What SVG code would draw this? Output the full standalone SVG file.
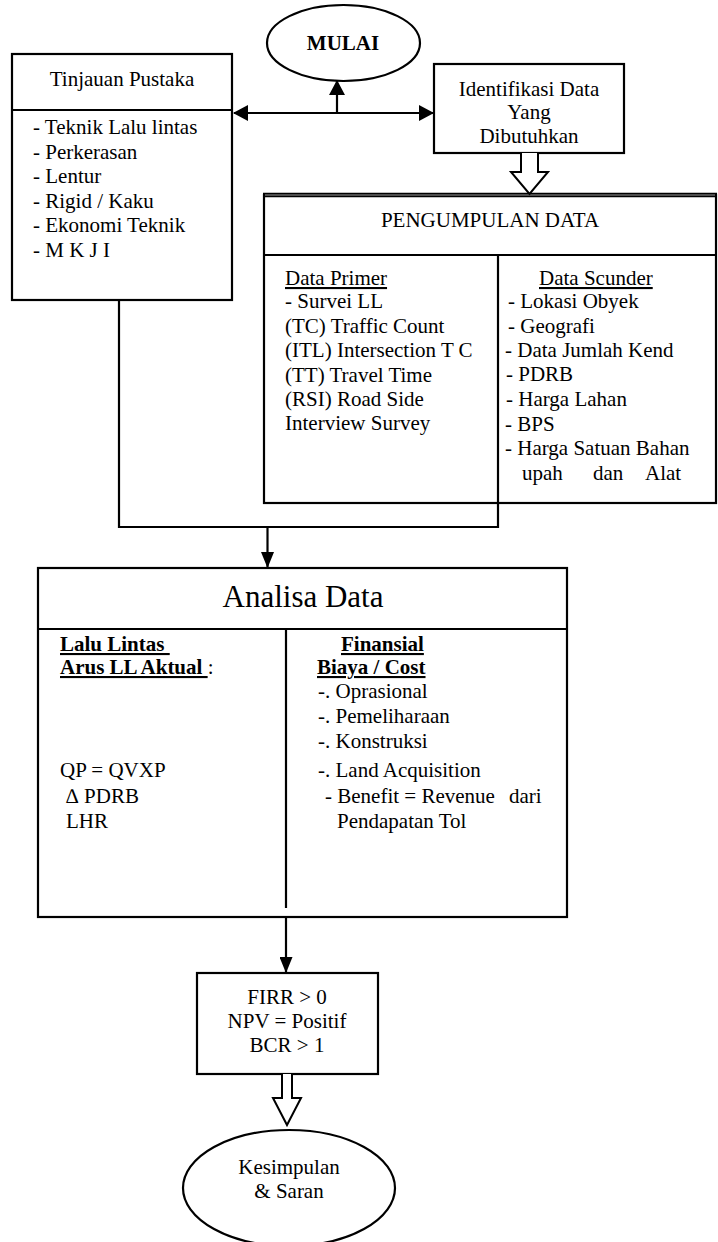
<svg xmlns="http://www.w3.org/2000/svg" width="718" height="1242" viewBox="0 0 718 1242">
<defs>
<marker id="ah" viewBox="0 0 15 16" refX="14" refY="8" markerWidth="15" markerHeight="16" markerUnits="userSpaceOnUse" orient="auto-start-reverse"><path d="M0,0 L15,8 L0,16 z" fill="#000"/></marker>
<marker id="ahs" viewBox="0 0 16 13" refX="15" refY="6.5" markerWidth="16" markerHeight="13" markerUnits="userSpaceOnUse" orient="auto"><path d="M0,0 L16,6.5 L0,13 z" fill="#000"/></marker>
</defs>
<style>
text{font-family:"Liberation Serif","Times New Roman",serif;font-size:21px;fill:#000}
.box{fill:#fff;stroke:#000;stroke-width:2.2}
.ln{stroke:#000;stroke-width:2.2;fill:none}
.blk{stroke:#000;stroke-width:2;fill:#fff;stroke-linejoin:miter}
.c{text-anchor:middle}
.b{font-weight:bold}
.u{text-decoration:underline}
</style>
<rect width="718" height="1242" fill="#fff"/>

<g id="mulai">
<ellipse cx="343.5" cy="43" rx="76.5" ry="38" class="box"/>
<text x="343" y="50" class="c b">MULAI</text>
</g>

<g id="tinjauan">
<rect x="12" y="54" width="220" height="246" class="box"/>
<line x1="12" y1="110" x2="232" y2="110" class="ln"/>
<text x="122" y="86" class="c">Tinjauan Pustaka</text>
<text x="33" y="134">- Teknik Lalu lintas</text>
<text x="33" y="158.5">- Perkerasan</text>
<text x="33" y="183">- Lentur</text>
<text x="33" y="207.5">- Rigid / Kaku</text>
<text x="33" y="232">- Ekonomi Teknik</text>
<text x="33" y="256.5">- M K J I</text>
</g>

<g id="identifikasi">
<rect x="434" y="64" width="190" height="89" class="box"/>
<text x="529" y="96" class="c">Identifikasi Data</text>
<text x="529" y="119" class="c">Yang</text>
<text x="529" y="143" class="c">Dibutuhkan</text>
</g>

<g id="pengumpulan">
<rect x="264" y="195" width="452" height="308" class="box"/>
<line x1="263" y1="195" x2="717" y2="195" stroke="#000" stroke-width="4.5"/>
<line x1="265" y1="195" x2="715" y2="195" stroke="#999" stroke-width="1.2"/>
<line x1="264" y1="255" x2="716" y2="255" class="ln"/>
<line x1="498" y1="255" x2="498" y2="503" class="ln"/>
<text x="490" y="227" class="c">PENGUMPULAN DATA</text>
<text x="285" y="285" class="u">Data Primer</text>
<text x="285" y="308">- Survei LL</text>
<text x="285" y="333">(TC) Traffic Count</text>
<text x="285" y="357">(ITL) Intersection T C</text>
<text x="285" y="382">(TT) Travel Time</text>
<text x="285" y="406">(RSI) Road Side</text>
<text x="285" y="430">Interview Survey</text>
<text x="539" y="285" class="u">Data Scunder</text>
<text x="508" y="308">- Lokasi Obyek</text>
<text x="508" y="333">- Geografi</text>
<text x="505" y="357">- Data Jumlah Kend</text>
<text x="506" y="381">- PDRB</text>
<text x="506" y="406">- Harga Lahan</text>
<text x="505" y="431">- BPS</text>
<text x="505" y="455">- Harga Satuan Bahan</text>
<text y="480"><tspan x="522">upah</tspan><tspan x="593">dan</tspan><tspan x="645">Alat</tspan></text>
</g>

<g id="analisa">
<rect x="38" y="568" width="529" height="349" class="box"/>
<line x1="38" y1="629" x2="567" y2="629" class="ln"/>
<line x1="286" y1="629" x2="286" y2="908" class="ln"/>
<text x="303" y="607" class="c" style="font-size:31px">Analisa Data</text>
<text x="60" y="651" class="b u" xml:space="preserve">Lalu Lintas </text>
<text x="60" y="674" xml:space="preserve"><tspan class="b u">Arus LL Aktual </tspan><tspan>:</tspan></text>
<text x="60" y="777">QP = QVXP</text>
<text x="66" y="803">∆ PDRB</text>
<text x="66" y="828">LHR</text>
<text x="341" y="651" class="b u">Finansial</text>
<text x="317" y="674" class="b u">Biaya / Cost</text>
<text x="318" y="698">-. Oprasional</text>
<text x="318" y="723">-. Pemeliharaan</text>
<text x="318" y="748">-. Konstruksi</text>
<text x="318" y="777">-. Land Acquisition</text>
<text x="325" y="803">- Benefit = Revenue<tspan x="509">dari</tspan></text>
<text x="337" y="828">Pendapatan Tol</text>
</g>

<g id="kriteria">
<rect x="197" y="973" width="181" height="101" class="box"/>
<text x="287" y="1004" class="c">FIRR &gt; 0</text>
<text x="287" y="1028" class="c">NPV = Positif</text>
<text x="287" y="1052" class="c">BCR &gt; 1</text>
</g>

<g id="kesimpulan">
<ellipse cx="289" cy="1188" rx="106" ry="58" class="box"/>
<text x="289" y="1174" class="c">Kesimpulan</text>
<text x="289" y="1198" class="c">&amp; Saran</text>
</g>

<g id="connectors">
<path d="M234,113 L433,113" class="ln" marker-start="url(#ah)" marker-end="url(#ah)"/>
<path d="M337,113 L337,81" class="ln" marker-end="url(#ah)"/>
<path d="M521,153 V172 H511 L529.5,194 L548,172 H538 V153" class="blk"/>
<path d="M119,300 V527 H498 V503" class="ln"/>
<path d="M267.5,527 V567" class="ln" marker-end="url(#ahs)"/>
<path d="M286,917 V972" class="ln" marker-end="url(#ahs)"/>
<path d="M282,1074 V1098 H273 L287,1125 L301,1098 H292 V1074" class="blk"/>
</g>
</svg>
